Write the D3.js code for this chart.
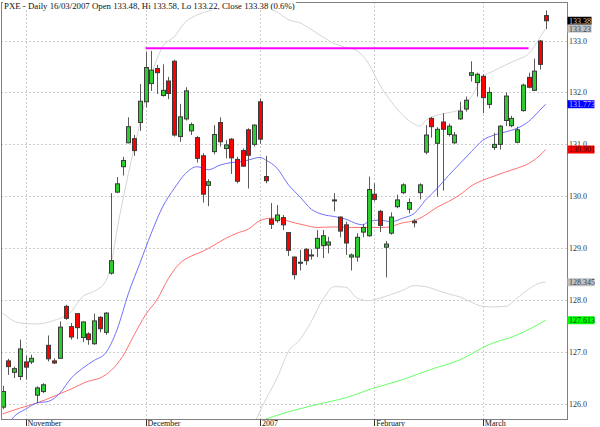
<!DOCTYPE html>
<html><head><meta charset="utf-8">
<script src="https://cdn.jsdelivr.net/npm/d3@7"></script>
<style>body{margin:0;background:#fff}svg{display:block}</style>
</head><body>
<script>
// ---------- DATA ----------
const dates = [
 "2006-10-26","2006-10-27","2006-10-30","2006-10-31",
 "2006-11-01","2006-11-02","2006-11-03","2006-11-06","2006-11-07","2006-11-08","2006-11-09","2006-11-10","2006-11-13","2006-11-14","2006-11-15","2006-11-16","2006-11-17","2006-11-20","2006-11-21","2006-11-22","2006-11-24","2006-11-27","2006-11-28","2006-11-29","2006-11-30",
 "2006-12-01","2006-12-04","2006-12-05","2006-12-06","2006-12-07","2006-12-08","2006-12-11","2006-12-12","2006-12-13","2006-12-14","2006-12-15","2006-12-18","2006-12-19","2006-12-20","2006-12-21","2006-12-22","2006-12-26","2006-12-27","2006-12-28","2006-12-29",
 "2007-01-03","2007-01-04","2007-01-05","2007-01-08","2007-01-09","2007-01-10","2007-01-11","2007-01-12","2007-01-16","2007-01-17","2007-01-18","2007-01-19","2007-01-22","2007-01-23","2007-01-24","2007-01-25","2007-01-26","2007-01-29","2007-01-30","2007-01-31",
 "2007-02-01","2007-02-02","2007-02-05","2007-02-06","2007-02-07","2007-02-08","2007-02-09","2007-02-12","2007-02-13","2007-02-14","2007-02-15","2007-02-16","2007-02-20","2007-02-21","2007-02-22","2007-02-23","2007-02-26","2007-02-27","2007-02-28",
 "2007-03-01","2007-03-02","2007-03-05","2007-03-06","2007-03-07","2007-03-08","2007-03-09","2007-03-12","2007-03-13","2007-03-14","2007-03-15","2007-03-16"
];
const opens = [125.94,126.83,126.61,126.53,126.81,126.81,126.17,126.24,127.13,126.83,126.88,127.88,127.49,127.74,127.28,127.35,127.16,127.67,127.38,128.52,
 130.08,130.57,131.03,131.11,131.42,131.82,132.17,132.46,131.94,132.22,132.60,131.15,131.49,131.26,131.13,130.78,130.21,130.86,131.42,130.92,
 131.10,130.71,130.88,131.28,131.00,131.82,130.38,129.56,129.53,129.59,129.30,128.83,128.73,128.98,128.86,129.00,129.05,129.06,129.93,129.60,
 129.45,128.83,128.83,129.31,129.24,130.04,129.71,129.02,129.29,129.80,130.07,129.75,129.52,130.07,130.85,131.50,131.02,131.43,131.19,131.03,
 131.49,131.68,132.33,132.19,132.31,131.77,130.94,131.00,131.46,131.36,131.04,131.65,132.29,132.04,132.99,133.48];
const highs = [126.35,126.87,126.72,127.24,126.93,126.95,126.34,126.40,127.32,126.88,127.59,127.91,127.56,127.75,127.59,127.38,127.74,127.69,127.77,130.06,
 130.37,130.76,131.52,131.18,132.16,132.78,132.80,132.53,132.54,132.30,132.63,131.78,132.10,131.42,131.16,130.83,130.33,131.37,131.52,131.08,
 131.12,130.76,130.92,131.31,131.39,131.88,130.78,129.87,129.83,129.64,129.30,128.84,128.97,129.00,128.98,129.35,129.35,129.22,130.06,129.61,
 129.51,128.90,129.29,129.47,130.38,130.25,129.74,129.14,129.69,130.03,130.25,129.96,129.56,130.25,131.37,131.53,131.33,131.60,131.40,131.24,
 131.82,131.92,132.60,132.38,132.35,132.10,131.22,131.37,132.00,131.55,131.34,132.17,132.38,132.65,133.01,133.58];
const lows = [125.90,126.56,126.50,126.46,126.47,126.77,126.02,126.21,126.82,126.77,126.87,127.62,127.24,127.25,127.19,127.14,127.14,127.38,127.33,128.49,
 130.06,130.40,131.02,130.78,131.26,131.71,132.03,131.97,131.92,131.87,131.15,131.05,131.46,131.18,130.65,129.88,129.81,130.81,130.96,130.73,
 130.43,130.25,130.57,130.15,130.96,131.01,130.25,129.37,129.49,129.35,128.85,128.40,128.57,128.68,128.78,128.83,128.81,128.90,129.71,129.21,
 128.87,128.57,128.74,129.21,129.22,129.90,129.31,128.44,129.26,129.77,130.04,129.67,129.40,129.94,130.81,131.13,129.99,130.11,131.15,131.01,
 131.47,131.63,132.21,131.92,131.60,131.69,130.89,130.90,131.35,131.33,131.02,131.63,132.08,132.03,132.44,133.22];
const closes = [126.24,126.72,126.68,127.06,126.71,126.88,126.31,126.37,126.87,126.79,127.48,127.65,127.29,127.47,127.58,127.24,127.60,127.45,127.75,128.76,
 130.24,130.69,131.34,130.88,131.83,132.48,132.43,132.38,132.04,131.98,131.18,131.53,132.03,131.38,130.73,130.04,130.28,131.19,131.05,130.99,
 130.74,130.29,130.58,130.79,131.37,131.10,130.30,129.46,129.64,129.45,128.96,128.49,128.73,128.76,128.87,129.19,129.24,129.12,129.93,129.33,
 129.10,128.87,129.21,129.40,130.13,129.94,129.44,129.08,129.60,129.93,130.22,129.88,129.49,130.22,131.18,131.34,131.29,131.29,131.35,131.18,
 131.64,131.85,132.38,132.35,131.90,132.00,131.00,131.35,131.93,131.50,131.28,132.14,132.10,132.41,132.54,133.38];

// indicator lines: [candle index, value]
const bbUpper = [[0,127.75],[3,127.56],[6,127.54],[9,127.61],[12,127.78],[14,128.07],[16,128.17],[18,128.36],[19,128.71],[20,129.35],[22,130.44],[24,131.40],[26,132.33],[28,132.88],[30,133.07],[32,133.36],[34,133.49],[36,133.57],[38,133.62],[40,133.65],[42,133.68],[44,133.71],[46,133.65],[48,133.55],[50,133.40],[52,133.34],[54,133.21],[56,133.07],[58,132.94],[60,132.87],[62,132.80],[64,132.56],[66,132.14],[68,131.82],[70,131.56],[72,131.39],[73,131.35],[74,131.46],[76,131.56],[78,131.61],[80,131.67],[82,131.92],[84,132.29],[86,132.42],[88,132.53],[90,132.63],[92,132.74],[94,133.06],[95,133.23]];
const bbLower = [[44,125.60],[45,125.86],[46,126.08],[48,126.50],[50,127.01],[52,127.24],[54,127.59],[56,128.01],[58,128.26],[60,128.25],[62,128.04],[64,127.99],[66,128.04],[68,128.11],[70,128.19],[72,128.28],[74,128.26],[76,128.19],[78,128.12],[80,128.06],[82,127.96],[84,127.88],[86,127.87],[88,127.88],[90,128.04],[92,128.21],[94,128.33],[95,128.345]];
const ma20 = [[1,125.62],[2,125.76],[4,125.90],[6,126.02],[8,126.05],[10,126.21],[12,126.50],[14,126.69],[16,126.84],[18,126.98],[19,127.17],[20,127.43],[22,128.13],[24,128.71],[26,129.29],[28,129.80],[30,130.15],[32,130.44],[34,130.57],[36,130.51],[38,130.60],[40,130.65],[42,130.67],[44,130.73],[45,130.75],[46,130.70],[48,130.54],[50,130.22],[52,129.99],[54,129.75],[56,129.65],[58,129.61],[60,129.56],[62,129.47],[63,129.45],[64,129.51],[66,129.54],[68,129.51],[70,129.58],[72,129.67],[74,129.93],[76,130.15],[78,130.40],[80,130.63],[82,130.86],[84,131.08],[86,131.18],[88,131.24],[90,131.31],[92,131.44],[94,131.66],[95,131.773]];
const ma50 = [[0,125.81],[3,125.92],[6,126.02],[9,126.15],[12,126.29],[15,126.44],[17,126.50],[19,126.65],[21,126.92],[23,127.33],[25,127.72],[27,128.01],[29,128.42],[31,128.71],[33,128.85],[35,128.94],[37,129.06],[39,129.19],[41,129.29],[43,129.37],[45,129.53],[47,129.58],[49,129.55],[51,129.49],[53,129.44],[55,129.40],[58,129.41],[61,129.40],[64,129.40],[67,129.40],[70,129.49],[72,129.53],[74,129.64],[76,129.79],[78,129.90],[80,130.03],[82,130.20],[84,130.31],[86,130.39],[88,130.47],[90,130.54],[92,130.63],[94,130.79],[95,130.901]];
const ma200 = [[46,125.71],[50,125.85],[55,125.99],[60,126.12],[65,126.31],[70,126.47],[75,126.67],[80,126.85],[85,127.14],[90,127.33],[95,127.613]];
const resistance = {from: 25, to: 92, value: 132.85};

const priceTicks = [126,127,128,129,130,131,132,133];
const monthTicks = [["November","2006-11-01"],["December","2006-12-01"],["2007","2007-01-03"],["February","2007-02-01"],["March","2007-03-01"]];
const tags = [
 {value:133.38, text:"133.38",  bg:"#000000", fg:"#c8c8c8"},
 {value:133.23, text:"133.23",  bg:"#c0c0c0", fg:"#404040"},
 {value:131.773,text:"131.773", bg:"#0000ff", fg:"#c8c8ff"},
 {value:130.901,text:"130.901", bg:"#ff0000", fg:"#400000"},
 {value:128.345,text:"128.345", bg:"#c0c0c0", fg:"#404040"},
 {value:127.613,text:"127.613", bg:"#00ff00", fg:"#004000"}
];
const title = "PXE - Daily 16/03/2007 Open 133.48, Hi 133.58, Lo 133.22, Close 133.38 (0.6%)";

// ---------- CHART ----------
const W = 600, H = 427;
const L = 1.5, R = 567.5, T = 2.5, B = 419.5;
const svg = d3.select("body").append("svg").attr("width", W).attr("height", H)
  .style("font-family", "'Liberation Serif','DejaVu Serif',serif");

const x = d3.scalePoint().domain(dates).range([2.7, 545.7]);
const y = d3.scaleLinear().domain([126, 133]).range([404, 40.5]);

svg.append("defs").append("clipPath").attr("id","plot")
  .append("rect").attr("x", L).attr("y", T).attr("width", R-L).attr("height", B-T);

// grid
const grid = svg.append("g");
grid.selectAll("line.h").data(priceTicks).join("line")
  .attr("x1", L).attr("x2", R)
  .attr("y1", d => Math.round(y(d)) + 0.5).attr("y2", d => Math.round(y(d)) + 0.5)
  .attr("stroke", "#9a9a9a").attr("stroke-dasharray", "1,3");
grid.selectAll("line.v").data(monthTicks).join("line")
  .attr("x1", d => Math.round(x(d[1])) + 0.5).attr("x2", d => Math.round(x(d[1])) + 0.5)
  .attr("y1", T).attr("y2", B)
  .attr("stroke", "#9a9a9a").attr("stroke-dasharray", "1,3");

const plot = svg.append("g").attr("clip-path", "url(#plot)");
const line = d3.line().x(d => x(dates[d[0]])).y(d => y(d[1])).curve(d3.curveMonotoneX);

plot.append("path").datum(bbUpper).attr("d", line).attr("fill","none").attr("stroke","#d4d4d4").attr("stroke-width",1);
plot.append("path").datum(bbLower).attr("d", line).attr("fill","none").attr("stroke","#d4d4d4").attr("stroke-width",1);
plot.append("path").datum(ma200).attr("d", line).attr("fill","none").attr("stroke","#66ff66").attr("stroke-width",1);
plot.append("path").datum(ma50).attr("d", line).attr("fill","none").attr("stroke","#ff7070").attr("stroke-width",1);
plot.append("path").datum(ma20).attr("d", line).attr("fill","none").attr("stroke","#7070ff").attr("stroke-width",1);

// resistance line
plot.append("line")
  .attr("x1", x(dates[resistance.from])).attr("x2", x(dates[resistance.to]))
  .attr("y1", y(resistance.value)).attr("y2", y(resistance.value))
  .attr("stroke", "#ff00ff").attr("stroke-width", 2);

// candles
const candles = dates.map((d, i) => ({d, o: opens[i], h: highs[i], l: lows[i], c: closes[i]}));
const cg = plot.selectAll("g.c").data(candles).join("g");
cg.append("line")
  .attr("x1", d => Math.round(x(d.d)) + 0.5).attr("x2", d => Math.round(x(d.d)) + 0.5)
  .attr("y1", d => y(d.h)).attr("y2", d => y(d.l))
  .attr("stroke", "#5a5a5a");
cg.append("rect")
  .attr("x", d => Math.round(x(d.d)) - 1.5)
  .attr("width", 4)
  .attr("y", d => y(Math.max(d.o, d.c)))
  .attr("height", d => Math.max(1, Math.abs(y(d.o) - y(d.c))))
  .attr("fill", d => d.c > d.o ? "#2ecc2e" : (d.c < d.o ? "#ff0000" : "#5a5a5a"))
  .attr("stroke", "#3a3a3a").attr("stroke-width", 1);

// frame
svg.append("rect").attr("x", L).attr("y", T).attr("width", R-L).attr("height", B-T)
  .attr("fill","none").attr("stroke","#808080");

// right axis labels
svg.selectAll("text.yl").data(priceTicks).join("text")
  .attr("x", 569).attr("y", d => y(d) + 3)
  .attr("font-size", 8).attr("fill", "#333").text(d => d.toFixed(1));

// value tags
const tg = svg.selectAll("g.tag").data(tags).join("g");
tg.append("rect").attr("x", 567.5).attr("y", d => y(d.value) - 4).attr("width", d => d.text.length > 6 ? 27 : 24).attr("height", 8)
  .attr("fill", d => d.bg);
tg.append("text").attr("x", 569).attr("y", d => y(d.value) + 3)
  .attr("font-size", 8).attr("fill", d => d.fg).text(d => d.text);

// x axis ticks & labels
const xa = svg.append("g");
xa.selectAll("line").data(monthTicks).join("line")
  .attr("x1", d => Math.round(x(d[1])) + 0.5).attr("x2", d => Math.round(x(d[1])) + 0.5)
  .attr("y1", B).attr("y2", 426).attr("stroke", "#333");
xa.selectAll("text").data(monthTicks).join("text")
  .attr("x", d => x(d[1]) + 2).attr("y", 425.5)
  .attr("font-size", 8).attr("fill", "#111").text(d => d[0]);

// title
const tt = svg.append("text").attr("x", 4).attr("y", 8.5).attr("font-size", 8.8).attr("fill", "#111").text(title);
const bb = tt.node().getBBox();
svg.insert("rect", "text").attr("x", 3).attr("y", 0).attr("width", bb.width + 2).attr("height", 10).attr("fill", "#fff");
</script>
</body></html>
